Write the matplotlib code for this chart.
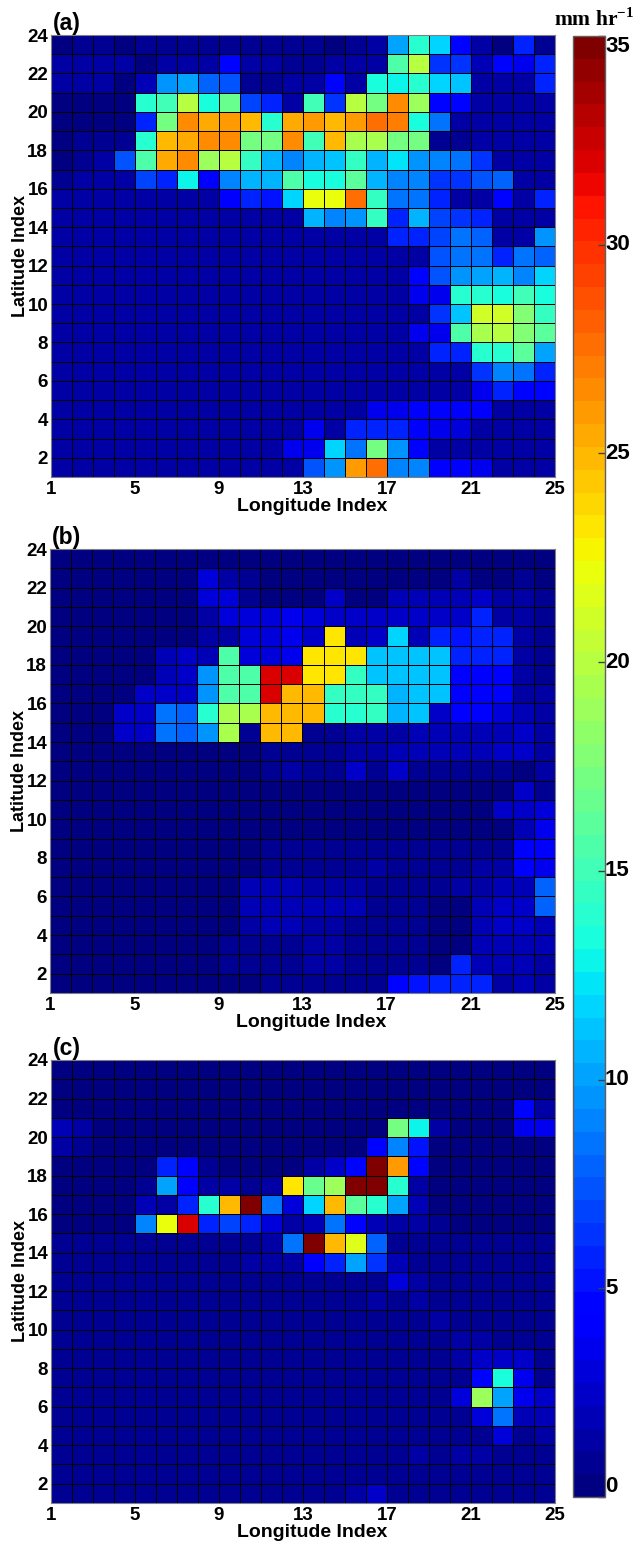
import matplotlib
matplotlib.use("Agg")
import matplotlib.pyplot as plt
import numpy as np

plt.rcParams['font.family'] = ['Liberation Sans', 'DejaVu Sans']
plt.rcParams['font.weight'] = 'bold'
plt.rcParams['mathtext.fontset'] = 'custom'
plt.rcParams['mathtext.bf'] = 'Liberation Serif:bold'
plt.rcParams['mathtext.rm'] = 'Liberation Serif:bold'

# Rain rate per cell, rows from latitude 24 down to latitude 1
rain_a = [
    [.3,.8,.8,.3,.8,1,1,1,1,1,1,1, 1,.5,1,1.5,10,14,12,4.4,1.5,.5,6,.8],
    [1.5,1.5,1.5,1.5,.5,1.5,1.5,1.5,4.4,1.5,1.5,1, .8,1.5,1.5,1.5,15.5,20,6.5,6.5,2,4.4,3.5,5.5],
    [1.5,1.5,1.5,.5,2,9.5,10,8,7.5,1,1,1.5, 1.5,4.5,1.5,13.2,13,14,11.5,11,1.5,1.5,1.5,5.5],
    [.5,.3,.3,.3,14,15,20,13.2,16.5,7,6,1.5, 15,6.5,20,17,26.5,19,4.5,4.5,1.5,1.5,1.5,1.5],
    [.5,.3,.3,.3,5.5,17,26.5,25.5,26,25,13.8,25.5, 26,25,26,27.5,27,13.2,8.5,1.2,1.2,1.2,1.5,1.2],
    [.5,1,1,1,14,25,25.5,26.5,26.5,17,17,26.5, 15,25,19.5,19.5,17,17,1,1,1.2,1.2,1.3,1.3],
    [.3,.8,1.2,7.5,15.5,25.5,26.5,19,20,14.5,10.5,9, 10.5,11,14.5,10.5,12.3,9.5,9,8.5,6.5,1.3,1.5,1.3],
    [1,1.2,1.2,1.2,7,6,12.7,4,9,10.5,10.5,15.5, 13.3,13.3,16,10.5,9,9,6.5,6.5,7.5,8,1.5,1.3],
    [1.5,1.5,1.5,1.3,1.3,1.3,1.3,1.3,4,5.5,5,12, 22,22,27.5,14.5,8.5,8.5,5.5,1.2,1.5,4.5,1.5,6],
    [1.3,1.3,1.3,1.3,1.3,1.3,1.3,1.3,1.2,1.2,1.2,1.2, 10.5,9,9.5,14.5,6,10.5,7,6.5,6,1.5,1.3,1.3],
    [1.3,1.3,1.3,1.3,1.3,1.3,1.3,1.3,1.2,1.2,1.2,1.2, 1.3,1.2,1.3,1.3,6,5.5,7,8.5,8,1.3,1.3,9.5],
    [1.5,1.5,1.5,1.5,1.5,1.5,1.5,1.5,1.5,1.5,1.5,1.5, 1.3,1.3,1.3,1.3,1.3,1.3,7.5,8.5,8.5,6,8.5,8],
    [1.5,1.5,1.5,1.5,1.5,1.5,1.5,1.5,1.5,1.5,1.5,1.5, 1.3,1.3,1.3,1.3,1.3,4.4,7.5,9.5,10,10.5,9,12],
    [1.5,1.5,1.5,1.5,1.5,1.5,1.5,1.5,1.5,1.5,1.5,1.5, 1.3,1.3,1.3,1.3,1.3,3.5,3.5,14,14,13.2,15,13.2],
    [1.5,1.5,1.5,1.5,1.5,1.5,1.5,1.5,1.5,1.5,1.5,1.5, 1.3,1.3,1.3,1.3,1.3,1.3,6.5,11,21,21,18,14.3],
    [1.5,1.5,1.5,1.5,1.5,1.5,1.5,1.5,1.5,1.5,1.5,1.5, 1.3,1.3,1.3,1.3,1.3,3.5,3.5,15.5,19.5,20,18,16],
    [1.5,1.5,1.5,1.5,1.5,1.5,1.5,1.5,1.5,1.5,1.5,1.5, 1.3,1.3,1.3,1.3,1.3,1.3,6,6,13.8,14,16,10],
    [1.5,1.5,1.5,1.5,1.5,1.5,1.5,1.5,1.5,1.5,1.5,1.5, 1.3,1.3,1.3,1.3,1.3,1.3,1.3,1.2,6.5,9,8.5,6],
    [1.5,1.5,1.5,1.5,1.5,1.5,1.5,1.5,1.5,1.5,1.5,1.5, 1.3,1.3,1.3,1.3,1.3,1.3,1.3,1.2,3.5,6,4.4,4.4],
    [1.5,1.5,1.5,1.5,1.5,1.5,1.5,1.5,1.5,1.5,1.5,1.5, 1.3,1.3,1.3,3.5,3.5,4,4.4,4,4,1.2,1.3,1.3],
    [1.5,1.5,1.5,1.5,1.5,1.5,1.5,1.5,1.5,1.5,1.5,1.5, 3.5,1.2,5.5,5.5,5.5,4,3.5,3,1.5,1.3,1.3,1.3],
    [1.5,1.5,1.5,1.5,1.5,1.5,1.5,1.5,1.5,1.5,1.5,3.5, 3.5,12,8.5,17,9.5,4,1.3,1.3,1.3,1.3,1.3,1.3],
    [1.5,1.5,1.5,1.5,1.5,1.5,1.5,1.5,1.5,1.5,1.5,1.5, 7.5,9.5,26,27.5,9,9,4.2,4,3.5,1.3,1.3,1.3],
]

rain_b = [
    [.5,.5,.5,.5,.5,.5,.5,.5,.5,.5,.5,.5, .3,.3,.3,.3,.3,.3,.3,.3,.3,.3,.3,.3],
    [.5,.5,.5,.5,.5,.5,.5,2.8,1.5,1,.5,.5, .5,.5,.5,.5,.5,.5,.3,1.5,.5,.5,1,.5],
    [.4,.4,.4,.4,.4,.4,.4,3,3,1,.5,.3, .3,2.5,.5,.3,2,2,2,2,2.5,1.3,1.3,1],
    [.4,.4,.4,.4,.4,.3,.3,1.5,3,3,3,3.3, 2.8,2.5,2.2,2.5,2.2,2.2,2.2,2.2,5.5,1.5,1.3,1],
    [.4,.4,.4,.4,.4,.3,.3,1.5,1.5,3,3.2,3.3, 2.5,23.5,2,2.5,11.5,2,5.5,5,5.5,5.5,1.3,1],
    [.4,.4,.4,.4,.4,2,2.5,2,15.5,3,3,3.3, 23.5,23.5,23.5,11.3,11.3,11.3,11.3,5.5,5.5,5.8,1.5,1],
    [.4,.4,.4,.4,.4,2,2.5,9.5,15.5,15.5,32,32, 23.5,23.5,14.5,11.3,11.3,11,11,4.2,4.2,4.2,1.2,1],
    [.4,.4,.4,.3,2.5,2.2,2.5,9.5,15.5,15.5,32,25, 25,14.3,14.3,14.5,10.8,11,11,4.3,4.3,4.3,1.3,1.3],
    [.5,.5,.5,2.3,2.5,8.5,8,14,19.5,19.5,25,25, 25,14,14,14.5,10.7,11,2.3,4,4,2.8,1.8,1.3],
    [.5,.5,.5,2.3,2.5,8.5,8,9.5,19.5,.8,25,25, .8,.8,1.5,1.5,1.5,1.8,2,2,2,2,2.2,1.3],
    [.5,.5,.5,.5,.5,.5,.5,.5,.5,.5,.8,1, 1,1,1.5,1.5,1.8,2,2,1.8,2,2.2,2.5,1.2],
    [.5,.5,.5,.5,.5,.5,.5,.5,.5,.5,.8,1.2, .8,1,2.5,1,2.2,.8,.7,.7,.7,.7,.4,1.3],
    [.5,.5,.5,.5,.5,.5,.5,.5,.5,.5,.5,.5, .5,.5,.5,.5,.5,.5,.5,.5,.5,.5,2.5,1],
    [.5,.5,.5,.5,.5,.5,.5,.5,.5,.5,.5,.5, .5,.5,.5,.5,.5,.5,.5,.5,.5,2.5,2.2,3],
    [.5,.5,.5,.5,.5,.5,.5,.5,.5,.5,.5,.5, .5,.5,.5,.5,.5,.5,.5,.5,.5,.4,2,3.5],
    [.5,.5,.5,.5,.5,.5,.5,.5,.5,.5,1,1, 1,1,1,1,.8,.7,.7,1,1,1,4,4],
    [.5,.5,.5,.5,.5,.5,.5,.5,.5,.5,1,1, 1,1,1,1.3,.8,.7,.7,1,1.2,1.2,4,3.8],
    [.5,.5,.5,.5,.5,.5,.5,.5,.5,1.8,2,2, 1.2,1.2,1.2,.8,.8,.7,.7,1.2,1.2,1.8,2,8],
    [.5,.5,.5,.5,.5,.5,.5,.5,.5,1.8,2,2, 1.8,1.8,1.8,.7,.7,.7,.5,.3,1.8,2.2,2.2,8],
    [.5,.5,.5,.5,.5,.5,.5,.5,.5,1.5,1.8,1.8, 1.5,1.5,.8,.7,.7,.7,.5,.3,2,2.2,2.2,2],
    [.5,.5,.5,.5,.5,.5,.5,.5,1,1,1,1, 1.2,1.2,.9,.7,.7,.7,.5,.3,2,2,2,2],
    [.5,.5,.5,.5,.5,.5,.5,.5,.6,.6,.8,1, 1.2,1.2,1,.8,.6,.6,.5,5.5,2,1.8,1.8,1.4],
    [.5,.5,.5,.5,.5,.5,.5,.5,.5,.5,.7,.7, .9,.8,.8,.8,4.5,5,5.5,6,5.5,1.6,1.7,1.3],
]

rain_c = [
    [.4,.4,.4,.4,.4,.4,.4,.4,.4,.4,.4,.4, .4,.4,.4,.4,.4,.4,.4,.4,.4,.4,.4,.4],
    [.4,.4,.4,.4,.4,.4,.4,.4,.4,.4,.4,.4, .4,.4,.4,.4,.4,.4,.4,.4,.4,.4,.4,.4],
    [.4,.4,.4,.4,.4,.4,.4,.4,.4,.4,.4,.4, .4,.4,.4,.4,.4,.4,.4,.4,.4,.4,4.5,1.5],
    [2,1.5,.4,.4,.4,.4,.4,.4,.4,.4,.4,.4, .4,.4,.4,.4,17,13,1.2,.5,.5,.5,3.3,3.3],
    [1.5,1,.4,.4,.4,.4,.4,.4,.4,.4,.4,.4, .4,.4,.4,4.4,9,5,.5,.5,.5,.5,.5,.5],
    [.5,.5,.5,.5,.5,6,4.5,.8,.5,.5,.5,.5, 1.5,2.5,4.4,35,26,4.4,.5,.5,.5,.5,.5,.5],
    [.5,.5,.5,.5,1,10,4,1.5,1.5,.8,1.3,23.5, 16.5,19,35,35,14,1.3,.5,.5,.5,.5,.5,.5],
    [.5,.5,.5,.5,1.8,1.2,6,14,25,35,8.5,3, 11.5,25,16,13.8,10,1.8,.5,.5,.5,.5,.5,.5],
    [.5,.5,.5,.5,9,22,32,5.5,7,6,3,1.5, 2,8.5,4.4,2,1.2,1.5,1,.5,.5,.5,.5,.5],
    [.7,.7,.7,.7,.7,.7,.7,.7,.7,.9,1.2,8.5, 35,25,21.5,8,1,.6,.6,.6,.6,.6,.6,.6],
    [.7,.7,.7,.7,.7,.7,.7,.7,.7,1.5,1.3,1.2, 4,6,10,6.5,1.8,.8,.8,.8,.8,.8,.8,.8],
    [1,.7,.7,.7,.7,.7,.7,.7,.7,.7,.7,.7, .9,.9,.9,1,2.8,1.2,.8,.8,.8,.8,.8,.8],
    [.7,.7,.7,.7,.7,.7,.7,.7,.7,.7,.7,.7, .7,.7,.7,1.5,1,1.4,.7,.7,.7,.7,.7,.7],
    [.6,.6,.6,.6,.6,.6,.6,.6,.6,.6,.6,.6, .6,.6,.6,.6,.6,.6,1.5,.8,.6,.6,.6,.6],
    [.6,.6,.6,.6,.6,.6,.6,.6,.6,.6,.6,.6, .6,.6,.6,.6,.6,.6,.9,1.2,1.4,.8,1,.7],
    [.6,.6,.6,.6,.6,.6,.6,.6,.6,.6,.6,.6, .6,.6,.6,.6,.6,.6,.7,1.3,2.3,2.5,2.2,1],
    [.6,.6,.6,.6,.6,.6,.6,.6,.6,.6,.6,.6, .6,.6,.6,.6,.6,.6,.7,.9,4.8,13.2,3.6,1],
    [.6,.6,.6,.6,.6,.6,.6,.6,.6,.6,.6,.6, .6,.6,.6,.6,.6,.6,.7,3,19,10,3.5,2.2],
    [.6,.6,.6,.6,.6,.6,.6,.6,.6,.6,.6,.6, .6,.6,.6,.6,.6,.6,.7,1,3,8.5,1.8,2],
    [.6,.6,.6,.6,.6,.6,.6,.6,.6,.6,.6,.6, .6,.6,.6,.6,.6,.6,.7,.7,1,3.2,1,1.3],
    [.6,.6,.6,.6,.6,.6,.6,.6,.6,.6,.6,.6, .6,.6,.6,.6,.7,1.2,.7,1.1,1.1,.7,.7,.7],
    [.6,.6,.6,.6,.6,.6,.6,.6,.6,.6,.6,.6, .6,.6,.6,.6,.6,.6,.6,.6,.6,.6,.6,.6],
    [.6,.6,.6,.6,.6,.6,.6,.6,.6,.6,.6,.6, .7,.7,1.2,2.3,.7,.7,.7,.7,.7,.7,.7,.7],
]

panel_labels = ["(a)", "(b)", "(c)"]
x_ticks = [1, 5, 9, 13, 17, 21, 25]
y_ticks = list(range(2, 25, 2))
bar_ticks = [0, 5, 10, 15, 20, 25, 30, 35]

W, H = 636, 1543
lon_edges = np.arange(1, 26)
lat_edges = np.arange(1, 25)
cmap = plt.get_cmap('jet', 64)

fig = plt.figure(figsize=(W / 100, H / 100), dpi=100)

# (left, top, right, bottom) of each panel, in pixels
boxes = [(51, 35, 555, 477), (50, 549, 555, 993), (51, 1060, 555, 1503)]
for rain, label, (x0, y0, x1, y1) in zip([rain_a, rain_b, rain_c], panel_labels, boxes):
    ax = fig.add_axes([x0 / W, 1 - y1 / H, (x1 - x0) / W, (y1 - y0) / H])
    mesh = ax.pcolormesh(lon_edges, lat_edges, np.array(rain)[::-1], cmap=cmap, vmin=0, vmax=35,
                         edgecolors='k', linewidth=0.45)
    ax.set_xticks(x_ticks)
    ax.set_yticks(y_ticks)
    ax.tick_params(length=0, labelsize=13.5, pad=2)
    ax.tick_params(axis='x', pad=3)
    ax.set_xlabel("Longitude Index", fontsize=14, fontweight='bold', labelpad=0, x=0.518)
    ax.set_ylabel("Latitude Index", fontsize=13, fontweight='bold', labelpad=-1)
    for s in ax.spines.values():
        s.set_color('#808080')
        s.set_linewidth(0.8)
    ax.text(0.003, 1.0, label, transform=ax.transAxes, fontsize=16.5, fontweight='bold', va='bottom')

cax = fig.add_axes([573 / W, 1 - 1497 / H, 32 / W, (1497 - 36) / H])
cb = fig.colorbar(mesh, cax=cax, ticks=bar_ticks)
cb.outline.set_edgecolor('#606060')
cb.outline.set_linewidth(1)
cax.tick_params(direction='in', length=5, width=1, color='#404040', labelsize=16, pad=0)
for t, v in zip(cax.get_yticklabels(), bar_ticks):
    t.set_va('bottom' if v == 0 else 'top' if v == 35 else 'center')

fig.text(594 / W, 1 - 20 / H, r"mm hr$^{\mathbf{-1}}$", family='Liberation Serif', fontsize=15.5,
         fontweight='bold', ha='center', va='center')

fig.savefig("out.png", dpi=100)
